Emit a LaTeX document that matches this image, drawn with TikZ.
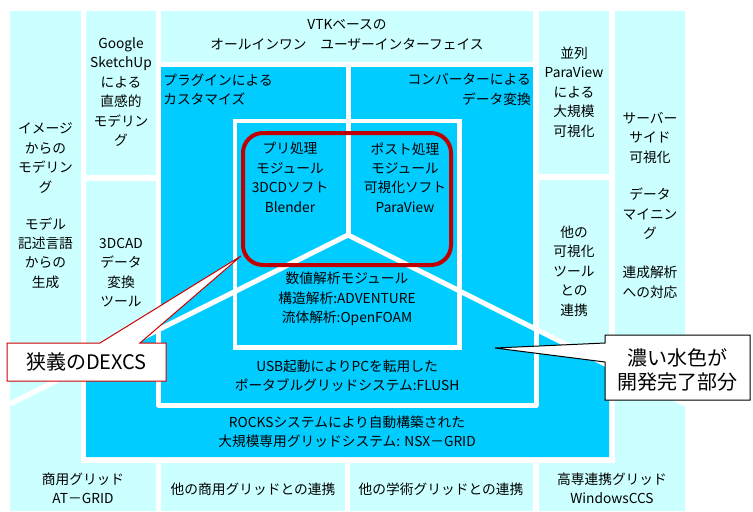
\documentclass[tikz,border=0pt]{standalone}
\usepackage{fontspec}
\setmainfont{Noto Sans CJK JP}
\definecolor{lc}{HTML}{CCFFFF}
\definecolor{dc}{HTML}{00CCFF}
\definecolor{rd}{HTML}{C00000}
\definecolor{cr}{HTML}{D00000}
\begin{document}
\begin{tikzpicture}[x=0.75pt,y=-0.75pt,
  txt/.style={inner sep=0pt, align=center, font=\fontsize{10.3pt}{14.6pt}\selectfont},
  big/.style={inner sep=0pt, align=center, font=\fontsize{15pt}{18pt}\selectfont},
  wl/.style={white, line width=3.75pt, line join=round},
  cellfill/.style={fill=lc},
  darkfill/.style={fill=dc}]
\useasboundingbox (0,0) rectangle (753,511);
% light cells
\fill[cellfill] (10,11) -- (81,11) -- (81,463) -- (156,463) -- (156,511) -- (10,511) -- cycle;
\fill[cellfill] (86,11) rectangle (156,175);
\fill[cellfill] (86,181) rectangle (156,405);
\fill[cellfill] (161,11) rectangle (533,62);
\fill[cellfill] (539,11) rectangle (609,174);
\fill[cellfill] (539,180) rectangle (609,405);
\fill[cellfill] (615,11) -- (685,11) -- (685,511) -- (539,511) -- (539,463) -- (615,463) -- cycle;
\fill[cellfill] (161,463) rectangle (345,511);
\fill[cellfill] (350,463) rectangle (533,511);
% dark regions
\fill[darkfill] (161,67) rectangle (533,405);
\fill[darkfill] (86,366) -- (86,457) -- (609,457) -- (609,365.5) -- (348,235) -- cycle;
% white structure lines
\coordinate (c) at (348,235);
\coordinate (bl) at (10,404);
\coordinate (br) at (685,404);
\coordinate (top) at (348,62);
\draw[wl] (bl) -- (c) -- (br);
\draw[wl] (top) -- (c);
\draw[wl] (158.5,329.75) -- (158.5,405) -- (536,405) -- (536,329);
\draw[white, line width=3.4pt] (235,121) rectangle (459.5,347.5);
% red rounded frame
\draw[rd, line width=3pt, rounded corners=15pt] (243,133) rectangle (451,265);
% texts
\node[txt] (img) at (45.5,158) {イメージ\\からの\\モデリン\\グ};
\node[txt] (mdl) at (45.5,253) {モデル\\記述言語\\からの\\生成};
\node[txt] (google) at (121,92) {Google\\SketchUp\\による\\直感的\\モデリン\\グ};
\node[txt] (cad) at (121,272.5) {3DCAD\\データ\\変換\\ツール};
\node[txt] (vtk) at (347,35) {VTKベースの\\オールインワン　ユーザーインターフェイス};
\node[txt, anchor=west, align=left] (plug) at (163,89.5) {プラグインによる\\カスタマイズ};
\node[txt, anchor=east, align=right] (conv) at (531,89.5) {コンバーターによる\\データ変換};
\node[txt] (pre) at (290,177.5) {プリ処理\\モジュール\\3DCDソフト\\Blender};
\node[txt] (post) at (405,177.5) {ポスト処理\\モジュール\\可視化ソフト\\ParaView};
\node[txt] (num) at (347,299) {数値解析モジュール\\構造解析:ADVENTURE\\流体解析:OpenFOAM};
\node[txt] (flush) at (347,375.5) {USB起動によりPCを転用した\\ポータブルグリッドシステム:FLUSH};
\node[txt] (rocks) at (347,432) {ROCKSシステムにより自動構築された\\大規模専用グリッドシステム: NSX－GRID};
\node[txt] (atg) at (83,488.5) {商用グリッド\\AT－GRID};
\node[txt] (oth1) at (253,489) {他の商用グリッドとの連携};
\node[txt] (oth2) at (441,489) {他の学術グリッドとの連携};
\node[txt] (kosen) at (612,488.5) {高専連携グリッド\\WindowsCCS};
\node[txt] (para) at (574,92) {並列\\ParaView\\による\\大規模\\可視化};
\node[txt] (othvis) at (574,271) {他の\\可視化\\ツール\\との\\連携};
\node[txt] (server) at (650,137.5) {サーバー\\サイド\\可視化};
\node[txt] (mining) at (650,214) {データ\\マイニン\\グ};
\node[txt] (coupled) at (650,282.5) {連成解析\\への対応};
% callouts
\coordinate (tip1) at (241,256);
\coordinate (tip2) at (495,348);
\filldraw[fill=white, draw=cr, line width=0.75pt] (7,343) -- (100,343) -- (tip1) -- (140,343) -- (166,343) -- (166,381) -- (7,381) -- cycle;
\node[big] (dexcs) at (86.5,362) {狭義のDEXCS};
\filldraw[fill=white, draw=black, line width=0.75pt] (605,335) -- (750,335) -- (750,400) -- (605,400) -- (605,362) -- (tip2) -- (605,343) -- cycle;
\node[big] (darknote) at (677.5,370) {濃い水色が\\開発完了部分};
\end{tikzpicture}
\end{document}
